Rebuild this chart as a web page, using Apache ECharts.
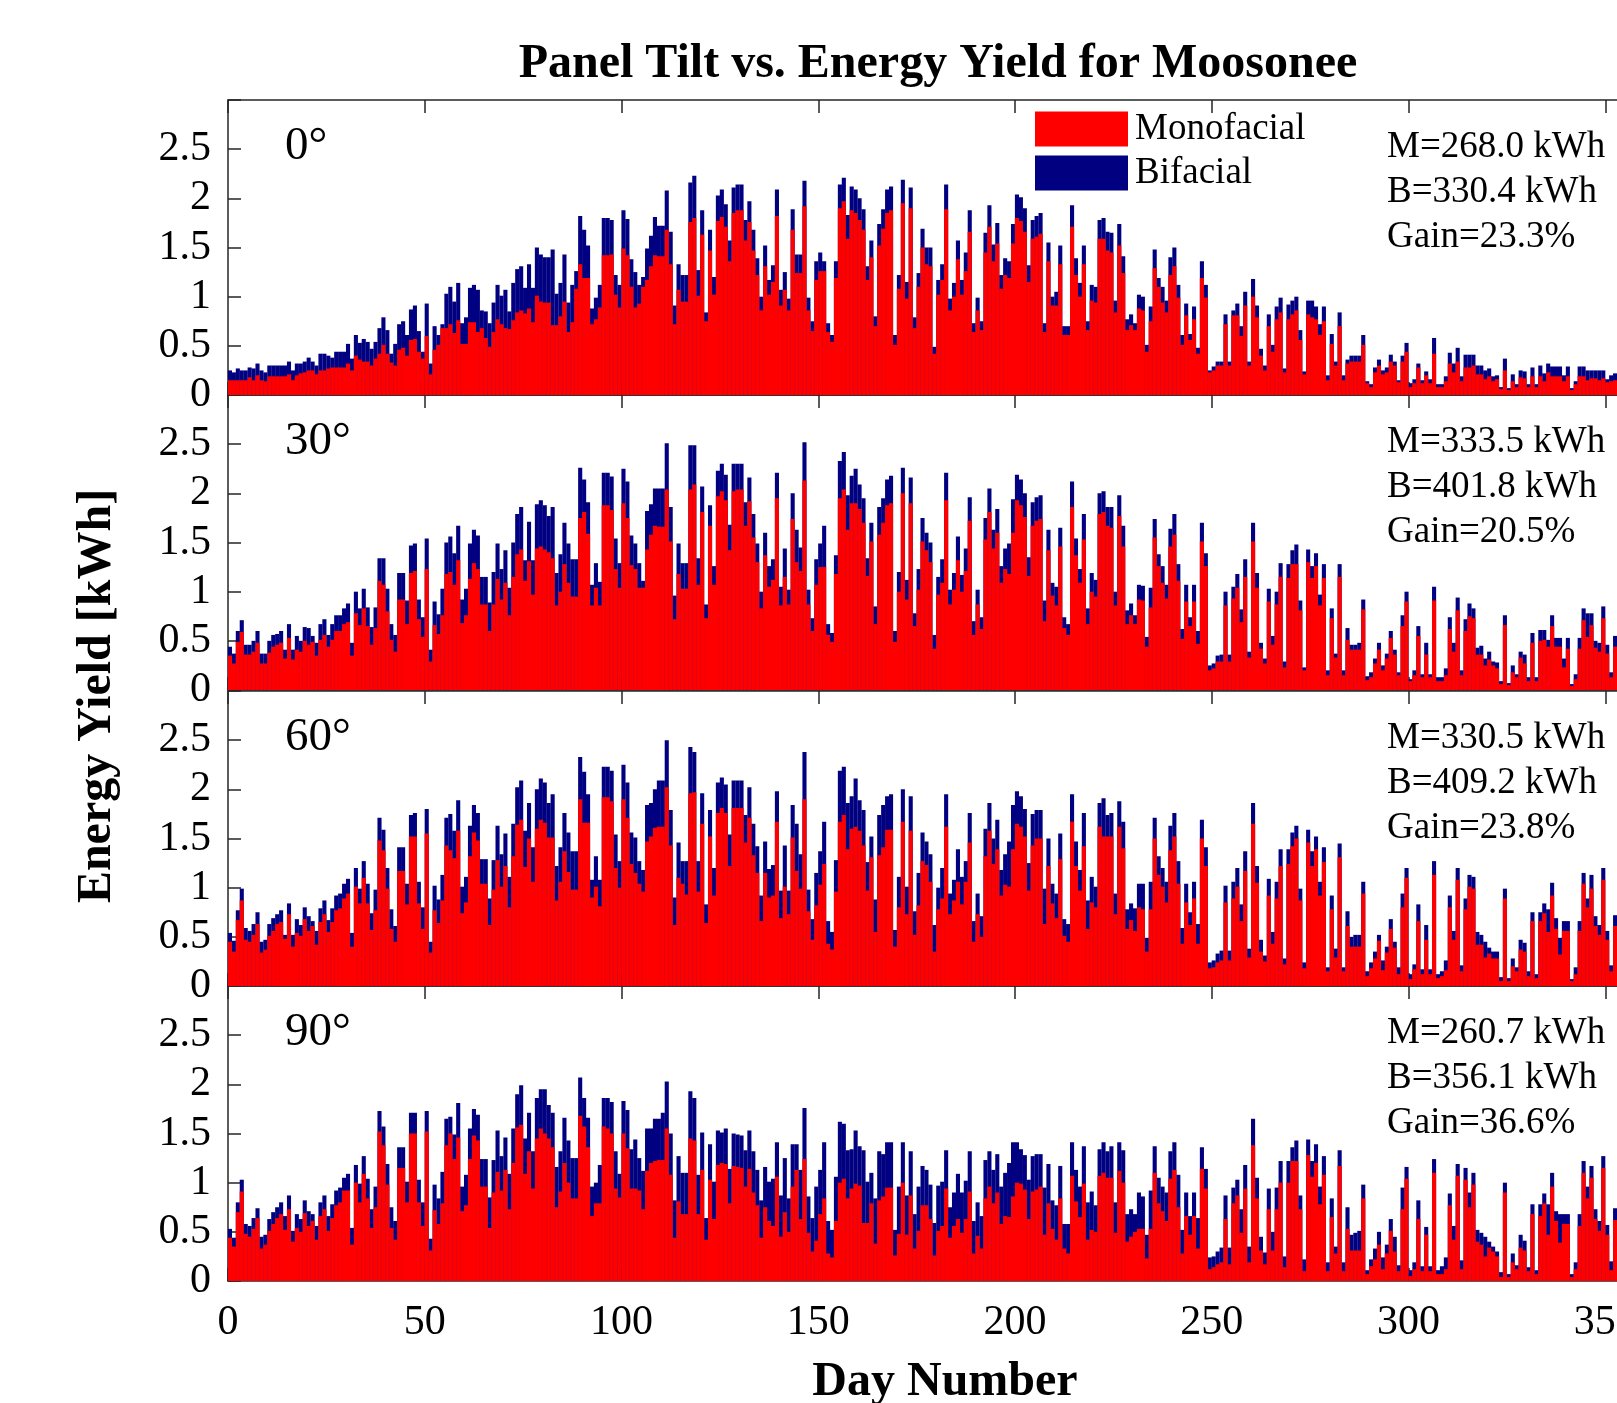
<!DOCTYPE html>
<html>
<head>
<meta charset="utf-8">
<title>Panel Tilt vs. Energy Yield for Moosonee</title>
<script src="https://cdn.jsdelivr.net/npm/echarts@6/dist/echarts.min.js"></script>
<style>
  html, body { margin: 0; padding: 0; background: #fff; }
  #chart { width: 1617px; height: 1403px; }
</style>
</head>
<body>
<div id="chart"></div>
<script>
// Daily energy yield [kWh], day 1..365 (days > 352 are off the picture)
const tiltLabels = ['0°', '30°', '60°', '90°'];
const totalMono = ['268.0', '333.5', '330.5', '260.7'];
const totalBi = ['330.4', '401.8', '409.2', '356.1'];
const gainPct = ['23.3', '20.5', '23.8', '36.6'];

const bi0 = [
  0.25,0.23,0.27,0.25,0.25,0.28,0.27,0.32,0.25,0.23,
  0.30,0.30,0.30,0.30,0.30,0.34,0.25,0.32,0.32,0.34,
  0.38,0.34,0.30,0.42,0.42,0.40,0.38,0.44,0.44,0.44,
  0.52,0.37,0.61,0.53,0.57,0.54,0.47,0.54,0.68,0.79,
  0.66,0.42,0.52,0.72,0.75,0.61,0.87,0.91,0.65,0.44,
  0.93,0.32,0.70,0.61,0.72,1.03,1.10,0.95,1.14,0.73,
  0.79,1.09,1.12,1.07,0.86,0.85,0.73,0.94,1.12,1.01,
  1.07,0.85,1.14,1.28,1.31,1.09,1.33,1.09,1.50,1.43,
  1.40,1.40,1.48,1.03,1.14,1.43,0.94,1.12,1.26,1.82,
  1.68,1.52,0.88,0.99,1.12,1.80,1.80,1.78,1.22,1.12,
  1.88,1.79,1.38,1.25,1.12,1.20,1.49,1.62,1.81,1.72,
  1.72,2.08,1.66,0.91,1.33,1.22,1.22,2.16,2.23,1.27,
  1.88,0.84,1.68,1.20,2.03,2.09,1.94,1.57,2.11,2.14,
  2.14,1.78,1.97,1.68,1.39,1.00,1.52,1.17,1.32,2.09,
  1.07,1.25,0.98,1.89,1.43,1.43,2.18,0.99,0.75,1.36,
  1.45,1.36,0.73,0.61,1.36,2.14,2.21,1.83,2.12,2.09,
  2.00,1.89,1.31,1.57,0.80,1.74,1.89,2.09,2.12,0.61,
  1.22,2.19,1.15,2.11,0.79,1.24,1.69,1.50,1.50,0.49,
  1.17,1.33,2.14,0.98,1.14,1.57,1.17,1.45,1.88,0.73,
  0.99,0.75,1.65,1.93,1.53,1.75,1.22,1.39,1.36,1.74,
  2.04,2.01,1.90,1.32,1.78,1.82,1.85,0.73,1.55,1.00,
  1.05,1.52,0.70,0.70,1.93,1.39,1.14,1.52,0.75,1.12,
  1.10,1.78,1.80,1.66,1.65,0.96,1.74,1.41,0.77,0.82,
  0.73,1.02,1.00,0.51,0.90,1.48,1.19,1.10,0.96,1.40,
  1.50,1.12,0.61,0.93,0.62,0.90,0.48,1.36,1.12,0.25,
  0.29,0.34,0.34,0.82,0.34,0.86,0.93,0.70,1.05,0.34,
  1.18,0.91,0.47,0.30,0.82,0.51,0.90,0.99,0.27,0.92,
  0.96,1.00,0.66,0.24,0.96,0.96,0.90,0.72,0.90,0.20,
  0.62,0.34,0.84,0.20,0.36,0.40,0.40,0.40,0.61,0.14,
  0.11,0.28,0.36,0.25,0.28,0.41,0.34,0.15,0.40,0.53,
  0.12,0.16,0.32,0.15,0.24,0.16,0.58,0.11,0.11,0.19,
  0.43,0.32,0.48,0.19,0.41,0.41,0.41,0.30,0.30,0.25,
  0.27,0.19,0.20,0.08,0.37,0.07,0.21,0.11,0.25,0.24,
  0.11,0.28,0.11,0.30,0.22,0.32,0.29,0.29,0.29,0.20,
  0.29,0.07,0.14,0.29,0.29,0.25,0.25,0.25,0.25,0.25,
  0.16,0.20,0.22,0.18,0.24,0.21,0.19,0.23,0.20,0.18,
  0.22,0.19,0.21,0.24,0.20
];
const mono0 = [
  0.15,0.15,0.15,0.15,0.15,0.18,0.15,0.20,0.15,0.14,
  0.19,0.19,0.19,0.19,0.19,0.21,0.15,0.20,0.22,0.23,
  0.25,0.25,0.21,0.25,0.25,0.27,0.28,0.28,0.28,0.28,
  0.32,0.25,0.40,0.36,0.34,0.34,0.30,0.37,0.42,0.51,
  0.42,0.33,0.30,0.46,0.48,0.40,0.56,0.57,0.44,0.37,
  0.60,0.21,0.46,0.51,0.68,0.68,0.72,0.63,0.76,0.52,
  0.52,0.74,0.74,0.64,0.68,0.58,0.49,0.64,0.77,0.72,
  0.68,0.67,0.76,0.84,0.86,0.83,0.88,0.74,1.01,0.95,
  0.94,0.94,0.71,0.71,0.80,0.95,0.64,0.74,1.08,1.33,
  1.19,1.19,0.72,0.77,0.89,1.42,1.42,1.43,1.02,0.89,
  1.49,1.42,1.10,0.89,0.93,1.10,1.17,1.31,1.42,1.41,
  1.41,1.68,1.33,0.72,1.07,0.95,0.95,1.76,1.80,1.01,
  1.63,0.75,1.47,1.02,1.77,1.81,1.71,1.36,1.85,1.88,
  1.88,1.57,1.76,1.47,1.22,0.86,1.31,1.02,1.15,1.82,
  0.91,1.07,0.86,1.68,1.24,1.24,1.92,0.86,0.65,1.17,
  1.26,1.26,0.64,0.54,1.19,1.90,1.97,1.59,1.88,1.85,
  1.78,1.68,1.17,1.40,0.70,1.52,1.69,1.85,1.88,0.51,
  1.08,1.95,0.98,1.90,0.68,1.10,1.50,1.33,1.31,0.42,
  1.02,1.17,1.89,0.86,1.00,1.38,1.02,1.26,1.66,0.64,
  0.86,0.66,1.45,1.71,1.36,1.54,1.08,1.22,1.19,1.54,
  1.80,1.77,1.66,1.15,1.59,1.61,1.64,0.64,1.36,0.91,
  0.91,1.33,0.61,0.61,1.71,1.22,1.00,1.33,0.66,0.96,
  0.94,1.59,1.59,1.47,1.45,0.84,1.52,1.24,0.66,0.71,
  0.66,0.88,0.86,0.44,0.75,1.29,1.10,0.94,0.84,1.22,
  1.31,0.99,0.51,0.81,0.56,0.77,0.42,1.19,0.99,0.23,
  0.25,0.30,0.30,0.72,0.30,0.81,0.81,0.60,0.91,0.30,
  1.00,0.79,0.40,0.25,0.70,0.44,0.77,0.84,0.23,0.77,
  0.82,0.86,0.56,0.21,0.82,0.79,0.77,0.61,0.75,0.15,
  0.52,0.30,0.70,0.15,0.32,0.34,0.34,0.34,0.51,0.12,
  0.08,0.23,0.30,0.21,0.23,0.34,0.30,0.13,0.34,0.44,
  0.08,0.12,0.28,0.12,0.20,0.12,0.42,0.08,0.08,0.14,
  0.32,0.23,0.34,0.14,0.28,0.28,0.30,0.21,0.21,0.16,
  0.19,0.14,0.16,0.06,0.25,0.05,0.14,0.08,0.18,0.17,
  0.08,0.19,0.08,0.19,0.14,0.23,0.19,0.19,0.19,0.14,
  0.19,0.05,0.11,0.19,0.19,0.15,0.17,0.17,0.15,0.17,
  0.13,0.14,0.15,0.12,0.17,0.14,0.13,0.16,0.14,0.12,
  0.15,0.13,0.14,0.17,0.14
];
const bi30 = [
  0.44,0.37,0.60,0.71,0.46,0.46,0.50,0.60,0.37,0.37,
  0.50,0.56,0.57,0.60,0.41,0.67,0.41,0.55,0.50,0.64,
  0.63,0.55,0.48,0.67,0.72,0.56,0.67,0.76,0.76,0.83,
  0.88,0.48,1.00,0.83,1.03,0.84,0.64,0.84,1.34,1.34,
  1.03,0.67,0.56,1.19,1.19,0.91,1.47,1.49,0.92,0.74,
  1.54,0.41,0.90,0.77,1.03,1.50,1.56,1.39,1.67,0.92,
  1.03,1.49,1.63,1.57,1.15,1.15,0.89,1.20,1.49,1.23,
  1.42,1.04,1.50,1.79,1.86,1.32,1.71,1.32,1.89,1.93,
  1.88,1.77,1.86,1.19,1.38,1.70,1.49,1.33,1.33,2.26,
  2.14,1.91,1.07,1.29,1.10,2.21,2.21,2.17,1.54,1.29,
  2.25,2.12,1.57,1.49,1.29,1.11,1.82,1.89,2.05,2.05,
  2.05,2.51,1.86,0.96,1.49,1.29,1.29,2.49,2.49,1.34,
  2.07,0.87,1.88,1.26,2.23,2.30,2.19,1.68,2.30,2.30,
  2.30,1.91,2.16,1.79,1.49,1.00,1.60,1.26,1.33,2.21,
  1.05,1.44,1.02,2.00,1.63,1.45,2.52,1.02,0.73,1.33,
  1.49,1.67,0.67,0.58,1.37,2.33,2.42,1.98,2.18,2.25,
  2.09,1.95,1.34,1.70,0.85,1.86,1.95,2.14,2.18,0.60,
  1.20,2.26,1.12,2.16,0.78,1.23,1.75,1.60,1.50,0.56,
  1.15,1.33,2.21,1.02,1.19,1.56,1.17,1.44,1.96,0.70,
  1.02,0.74,1.75,2.05,1.63,1.84,1.26,1.44,1.49,1.94,
  2.19,2.14,2.00,1.35,1.91,1.96,1.98,0.91,1.63,1.09,
  1.05,1.65,0.74,0.67,2.12,1.54,1.23,1.79,0.83,1.19,
  1.12,2.00,2.02,1.86,1.86,1.00,1.98,1.67,0.81,0.88,
  0.76,1.07,1.06,0.54,1.04,1.74,1.38,1.26,1.07,1.64,
  1.79,1.28,0.62,1.07,0.74,1.07,0.60,1.70,1.39,0.25,
  0.27,0.35,0.36,1.00,0.36,1.05,1.18,0.82,1.33,0.39,
  1.70,1.19,0.48,0.32,1.03,0.55,1.00,1.29,0.29,1.28,
  1.42,1.48,0.91,0.23,1.43,1.26,1.39,0.97,1.28,0.20,
  0.83,0.37,1.28,0.20,0.63,0.46,0.46,0.48,0.92,0.14,
  0.18,0.32,0.48,0.25,0.37,0.60,0.41,0.18,0.76,1.00,
  0.11,0.20,0.65,0.16,0.48,0.16,1.05,0.13,0.13,0.22,
  0.74,0.48,0.94,0.20,0.72,0.88,0.83,0.43,0.45,0.32,
  0.39,0.29,0.28,0.09,0.76,0.07,0.25,0.16,0.39,0.36,
  0.13,0.58,0.13,0.61,0.61,0.51,0.76,0.53,0.53,0.32,
  0.53,0.06,0.16,0.53,0.83,0.78,0.78,0.50,0.48,0.85,
  0.46,0.18,0.55,0.40,0.62,0.31,0.48,0.70,0.36,0.52,
  0.44,0.60,0.38,0.50,0.45
];
const mono30 = [
  0.35,0.27,0.49,0.59,0.36,0.36,0.39,0.48,0.27,0.27,
  0.38,0.44,0.46,0.48,0.32,0.53,0.31,0.41,0.39,0.50,
  0.46,0.49,0.35,0.51,0.56,0.44,0.51,0.60,0.60,0.67,
  0.69,0.35,0.78,0.66,0.83,0.65,0.46,0.63,1.11,1.07,
  0.80,0.51,0.39,0.92,0.92,0.67,1.19,1.21,0.72,0.54,
  1.23,0.29,0.66,0.57,0.76,1.18,1.20,1.07,1.32,0.68,
  0.76,1.13,1.29,1.23,0.87,0.87,0.60,0.87,1.13,0.92,
  1.09,0.76,1.15,1.38,1.43,1.11,1.31,0.97,1.44,1.46,
  1.43,1.40,1.34,0.86,1.00,1.28,1.09,0.95,0.95,1.75,
  1.81,1.59,0.86,1.04,0.86,1.88,1.88,1.83,1.23,1.04,
  1.90,1.75,1.27,1.23,1.04,1.04,1.43,1.58,1.67,1.66,
  1.66,2.04,1.51,0.72,1.18,1.03,1.03,2.04,2.09,1.07,
  1.81,0.73,1.67,1.07,1.97,2.02,1.93,1.42,2.02,2.04,
  2.04,1.67,1.92,1.55,1.30,0.83,1.37,1.05,1.12,1.95,
  0.86,1.15,0.87,1.74,1.30,1.21,2.13,0.87,0.60,1.07,
  1.25,1.25,0.56,0.49,1.18,1.95,2.04,1.63,1.90,1.90,
  1.84,1.70,1.16,1.51,0.67,1.58,1.70,1.88,1.90,0.49,
  1.00,2.00,0.92,1.90,0.65,1.02,1.51,1.42,1.30,0.42,
  0.97,1.09,1.93,0.87,1.02,1.32,1.00,1.21,1.72,0.56,
  0.87,0.62,1.53,1.81,1.44,1.60,1.09,1.23,1.18,1.60,
  1.93,1.88,1.76,1.16,1.67,1.72,1.74,0.70,1.42,0.96,
  0.86,1.46,0.63,0.56,1.86,1.37,1.09,1.53,0.67,1.00,
  0.95,1.79,1.81,1.67,1.65,0.86,1.77,1.46,0.67,0.76,
  0.67,0.92,0.91,0.44,0.84,1.55,1.26,1.09,0.93,1.46,
  1.58,1.11,0.52,0.90,0.65,0.90,0.47,1.51,1.26,0.20,
  0.22,0.29,0.29,0.86,0.29,0.93,1.04,0.69,1.15,0.33,
  1.51,1.04,0.42,0.27,0.90,0.46,0.87,1.15,0.23,1.14,
  1.28,1.28,0.81,0.20,1.30,1.14,1.26,0.86,1.14,0.15,
  0.73,0.33,1.15,0.15,0.51,0.41,0.41,0.41,0.82,0.10,
  0.13,0.27,0.41,0.20,0.32,0.53,0.36,0.15,0.65,0.90,
  0.09,0.15,0.55,0.13,0.36,0.13,0.91,0.09,0.09,0.15,
  0.62,0.39,0.81,0.15,0.60,0.75,0.73,0.36,0.36,0.25,
  0.31,0.25,0.22,0.06,0.66,0.05,0.18,0.13,0.33,0.27,
  0.09,0.48,0.09,0.50,0.51,0.44,0.65,0.44,0.44,0.23,
  0.42,0.04,0.11,0.42,0.71,0.54,0.66,0.43,0.39,0.73,
  0.37,0.13,0.44,0.32,0.51,0.25,0.39,0.58,0.29,0.42,
  0.35,0.49,0.30,0.41,0.36
];
const bi60 = [
  0.54,0.46,0.77,0.99,0.59,0.56,0.63,0.75,0.45,0.47,
  0.63,0.69,0.73,0.77,0.52,0.84,0.52,0.68,0.62,0.80,
  0.71,0.66,0.56,0.79,0.87,0.67,0.79,0.92,0.94,1.04,
  1.09,0.54,1.20,0.99,1.27,1.04,0.74,0.98,1.71,1.59,
  1.20,0.78,0.61,1.41,1.41,1.04,1.74,1.76,1.06,0.80,
  1.80,0.45,1.02,0.88,1.13,1.71,1.75,1.58,1.89,1.01,
  1.11,1.63,1.84,1.76,1.29,1.29,0.89,1.28,1.63,1.34,
  1.55,1.11,1.65,2.02,2.09,1.58,1.86,1.41,2.00,2.11,
  2.07,1.86,1.95,1.22,1.41,1.76,1.56,1.37,1.37,2.33,
  2.18,1.95,1.08,1.32,1.08,2.23,2.23,2.19,1.54,1.27,
  2.25,2.07,1.56,1.51,1.27,1.18,1.84,1.86,2.00,2.09,
  2.09,2.50,1.79,0.90,1.46,1.27,1.27,2.43,2.38,1.27,
  1.96,0.83,1.79,1.20,2.07,2.12,2.05,1.54,2.09,2.09,
  2.09,1.74,2.02,1.65,1.42,0.92,1.47,1.19,1.23,1.98,
  0.97,1.43,0.97,1.84,1.65,1.34,2.38,0.98,0.68,1.15,
  1.37,1.67,0.66,0.55,1.28,2.19,2.23,1.86,1.93,2.11,
  1.89,1.79,1.26,1.52,0.88,1.74,1.84,1.93,1.95,0.57,
  1.11,2.00,1.01,1.93,0.76,1.15,1.56,1.47,1.34,0.62,
  1.00,1.20,1.95,0.94,1.08,1.39,1.11,1.27,1.76,0.66,
  0.94,0.71,1.60,1.86,1.50,1.69,1.18,1.34,1.47,1.84,
  1.98,1.93,1.80,1.25,1.75,1.79,1.79,0.99,1.50,1.04,
  0.94,1.55,0.68,0.63,1.95,1.47,1.18,1.76,0.87,1.11,
  1.01,1.86,1.91,1.74,1.76,0.94,1.88,1.67,0.78,0.84,
  0.79,1.04,1.04,0.49,1.06,1.71,1.32,1.20,1.06,1.63,
  1.76,1.27,0.59,1.04,0.75,1.06,0.63,1.69,1.41,0.24,
  0.26,0.33,0.36,1.02,0.36,1.06,1.20,0.83,1.37,0.38,
  1.86,1.22,0.47,0.31,1.09,0.55,1.06,1.39,0.28,1.39,
  1.56,1.63,0.99,0.24,1.59,1.37,1.52,1.06,1.41,0.19,
  0.92,0.38,1.45,0.19,0.76,0.50,0.52,0.52,1.06,0.15,
  0.24,0.35,0.52,0.26,0.40,0.68,0.45,0.19,0.94,1.20,
  0.12,0.22,0.83,0.17,0.62,0.17,1.27,0.12,0.15,0.26,
  0.92,0.56,1.20,0.21,0.89,1.13,1.11,0.55,0.52,0.45,
  0.39,0.35,0.35,0.09,0.99,0.08,0.28,0.19,0.47,0.44,
  0.15,0.75,0.12,0.75,0.84,0.78,1.05,0.69,0.49,0.66,
  0.66,0.07,0.19,0.66,1.15,0.89,1.13,0.71,0.62,1.20,
  0.56,0.21,0.72,0.55,0.80,0.42,0.64,0.92,0.47,0.68,
  0.58,0.77,0.50,0.66,0.60
];
const mono60 = [
  0.45,0.35,0.67,0.87,0.47,0.45,0.52,0.63,0.34,0.37,
  0.51,0.56,0.63,0.65,0.48,0.73,0.40,0.54,0.51,0.68,
  0.56,0.61,0.42,0.65,0.73,0.55,0.65,0.77,0.79,0.89,
  0.94,0.40,1.01,0.84,1.10,0.84,0.57,0.77,1.48,1.38,
  0.99,0.58,0.45,1.17,1.17,0.83,1.52,1.52,0.84,0.58,
  1.55,0.34,0.77,0.64,0.87,1.43,1.38,1.30,1.58,0.74,
  0.85,1.32,1.56,1.48,1.04,1.04,0.62,0.98,1.28,1.01,
  1.22,0.80,1.32,1.64,1.69,1.21,1.50,1.06,1.60,1.69,
  1.66,1.51,1.51,0.87,1.06,1.37,1.16,0.98,0.98,1.90,
  1.66,1.66,0.90,1.01,0.81,1.92,1.92,1.88,1.20,1.00,
  1.90,1.71,1.24,1.15,1.04,0.96,1.47,1.52,1.61,1.62,
  1.62,2.02,1.43,0.62,1.10,1.04,0.93,1.96,1.97,0.96,
  1.65,0.64,1.52,0.92,1.76,1.81,1.76,1.22,1.81,1.81,
  1.81,1.46,1.71,1.33,1.15,0.66,1.15,0.90,0.92,1.67,
  0.69,1.01,0.73,1.51,1.17,0.99,1.90,0.76,0.47,0.82,
  1.03,1.24,0.43,0.37,0.96,1.67,1.74,1.39,1.60,1.62,
  1.58,1.43,0.97,1.31,0.55,1.33,1.41,1.59,1.59,0.40,
  0.80,1.67,0.73,1.58,0.52,0.82,1.27,1.23,1.06,0.35,
  0.78,0.89,1.62,0.73,0.87,1.06,0.83,1.06,1.46,0.45,
  0.73,0.50,1.32,1.58,1.24,1.39,0.92,1.03,1.01,1.39,
  1.65,1.62,1.52,0.97,1.43,1.50,1.50,0.63,1.22,0.84,
  0.69,1.29,0.51,0.45,1.67,1.22,0.97,1.42,0.58,0.85,
  0.80,1.62,1.52,1.52,1.52,0.73,1.62,1.40,0.58,0.67,
  0.56,0.80,0.78,0.35,0.78,1.50,1.13,1.01,0.85,1.38,
  1.52,1.04,0.43,0.85,0.62,0.89,0.43,1.50,1.22,0.18,
  0.19,0.24,0.26,0.85,0.26,0.89,1.01,0.66,1.17,0.29,
  1.65,1.05,0.35,0.25,0.92,0.43,0.89,1.22,0.22,1.24,
  1.42,1.50,0.87,0.18,1.46,1.22,1.39,0.92,1.26,0.15,
  0.78,0.29,1.31,0.15,0.61,0.40,0.40,0.40,0.94,0.10,
  0.18,0.28,0.46,0.16,0.34,0.58,0.39,0.12,0.80,1.10,
  0.07,0.17,0.66,0.12,0.47,0.12,1.13,0.08,0.10,0.16,
  0.80,0.47,1.08,0.15,0.78,1.01,0.99,0.42,0.42,0.29,
  0.33,0.28,0.28,0.05,0.89,0.05,0.20,0.15,0.37,0.35,
  0.10,0.66,0.08,0.66,0.74,0.55,0.92,0.58,0.32,0.56,
  0.56,0.05,0.12,0.56,1.04,0.80,0.99,0.61,0.52,1.08,
  0.47,0.15,0.61,0.46,0.68,0.34,0.54,0.79,0.38,0.57,
  0.48,0.66,0.41,0.55,0.50
];
const bi90 = [
  0.53,0.44,0.80,1.03,0.58,0.56,0.64,0.74,0.45,0.47,
  0.63,0.70,0.75,0.80,0.66,0.87,0.51,0.68,0.63,0.82,
  0.71,0.68,0.56,0.80,0.87,0.66,0.78,0.92,0.95,1.05,
  1.09,0.54,1.18,0.99,1.27,1.04,0.73,0.96,1.73,1.57,
  1.19,0.75,0.61,1.36,1.36,1.01,1.71,1.71,1.03,0.80,
  1.73,0.43,0.98,0.84,1.11,1.65,1.67,1.49,1.81,0.96,
  1.08,1.55,1.75,1.69,1.24,1.24,0.85,1.23,1.53,1.27,
  1.46,1.09,1.55,1.90,1.99,1.45,1.71,1.32,1.86,1.95,
  1.95,1.79,1.71,1.16,1.32,1.66,1.43,1.25,1.25,2.07,
  1.86,1.66,0.96,1.00,1.18,1.86,1.86,1.82,1.32,1.09,
  1.83,1.74,1.34,1.44,1.25,1.12,1.55,1.55,1.65,1.65,
  1.71,2.03,1.50,0.82,1.27,1.10,1.10,1.93,1.86,1.08,
  1.51,0.64,1.39,1.01,1.53,1.51,1.55,1.14,1.50,1.49,
  1.48,1.33,1.53,1.32,1.13,0.82,1.16,1.01,1.04,1.41,
  0.87,1.25,0.84,1.39,1.39,1.13,1.76,0.86,0.64,0.96,
  1.13,1.41,0.61,0.52,1.06,1.62,1.60,1.33,1.34,1.53,
  1.37,1.33,1.01,1.10,0.84,1.32,1.29,1.41,1.41,0.52,
  0.96,1.41,0.87,1.32,0.68,0.96,1.17,1.13,0.98,0.59,
  0.97,1.01,1.33,0.75,0.90,1.09,0.90,1.02,1.32,0.61,
  0.80,0.66,1.23,1.32,1.13,1.29,0.96,1.10,1.20,1.41,
  1.41,1.34,1.28,1.03,1.27,1.29,1.29,0.95,1.19,0.82,
  0.77,1.17,0.58,0.58,1.41,1.13,0.96,1.37,0.80,0.91,
  0.77,1.34,1.41,1.32,1.37,0.80,1.41,1.33,0.68,0.73,
  0.68,0.90,0.86,0.47,0.92,1.37,1.05,0.96,0.90,1.32,
  1.41,1.08,0.52,0.90,0.66,0.90,0.64,1.36,1.14,0.24,
  0.25,0.30,0.34,0.87,0.34,0.95,1.03,0.73,1.18,0.35,
  1.65,1.05,0.45,0.29,0.94,0.50,0.95,1.22,0.25,1.22,
  1.36,1.43,0.87,0.22,1.44,1.22,1.39,0.96,1.27,0.19,
  0.84,0.35,1.33,0.19,0.75,0.47,0.49,0.51,0.98,0.11,
  0.22,0.33,0.50,0.24,0.37,0.63,0.45,0.16,0.95,1.16,
  0.11,0.19,0.82,0.15,0.55,0.15,1.24,0.11,0.15,0.24,
  0.89,0.56,1.19,0.21,1.15,0.90,1.10,0.52,0.49,0.45,
  0.40,0.35,0.30,0.09,1.00,0.07,0.28,0.16,0.47,0.41,
  0.14,0.78,0.11,0.78,0.89,0.78,1.10,0.71,0.68,0.68,
  0.68,0.07,0.19,0.68,1.22,0.96,1.17,0.73,0.61,1.27,
  0.57,0.20,0.74,0.56,0.83,0.44,0.66,0.95,0.49,0.70,
  0.60,0.79,0.52,0.68,0.62
];
const mono90 = [
  0.44,0.35,0.70,0.91,0.48,0.45,0.53,0.64,0.33,0.37,
  0.51,0.58,0.64,0.68,0.52,0.73,0.40,0.54,0.50,0.69,
  0.56,0.61,0.42,0.66,0.73,0.51,0.64,0.77,0.80,0.92,
  0.92,0.37,1.00,0.80,1.09,0.84,0.54,0.75,1.52,1.38,
  0.98,0.54,0.42,1.15,1.15,0.80,1.50,1.50,0.80,0.56,
  1.52,0.31,0.72,0.58,0.79,1.38,1.50,1.24,1.46,0.71,
  0.77,1.24,1.48,1.43,0.96,0.96,0.54,0.90,1.11,0.92,
  1.13,0.73,1.20,1.56,1.59,1.09,1.32,0.94,1.45,1.55,
  1.50,1.45,1.36,0.75,0.91,1.20,1.00,0.84,0.84,1.68,
  1.57,1.36,0.66,0.79,0.79,1.57,1.55,1.50,0.94,0.85,
  1.50,1.35,0.94,0.94,0.92,0.73,1.12,1.20,1.22,1.23,
  1.23,1.55,1.08,0.44,0.81,0.68,0.68,1.45,1.43,0.68,
  1.13,0.42,1.03,0.63,1.18,1.20,1.19,0.79,1.17,1.16,
  1.15,0.96,1.14,0.90,0.77,0.44,0.75,0.61,0.56,1.06,
  0.45,0.70,0.50,0.96,1.13,0.63,1.24,0.49,0.30,0.41,
  0.68,0.84,0.28,0.24,0.61,1.00,1.04,0.84,0.94,0.99,
  0.97,0.59,0.59,0.79,0.38,0.82,0.86,0.95,0.95,0.26,
  0.48,1.00,0.47,0.87,0.33,0.51,0.77,0.77,0.63,0.26,
  0.51,0.56,0.94,0.44,0.56,0.63,0.49,0.63,0.91,0.28,
  0.46,0.33,0.84,0.96,0.79,0.90,0.58,0.66,0.65,0.86,
  1.00,0.99,0.93,0.63,0.91,0.93,0.96,0.47,0.79,0.53,
  0.42,0.84,0.33,0.28,1.07,0.81,0.65,0.99,0.42,0.52,
  0.50,1.07,1.10,1.05,1.05,0.49,1.12,1.00,0.40,0.45,
  0.50,0.53,0.53,0.23,0.53,1.10,0.79,0.71,0.61,1.04,
  1.13,0.75,0.28,0.66,0.47,0.66,0.33,1.14,0.94,0.12,
  0.14,0.17,0.19,0.63,0.17,0.79,0.87,0.49,0.94,0.19,
  1.38,0.84,0.31,0.17,0.73,0.31,0.73,1.00,0.14,1.00,
  1.22,1.22,0.73,0.10,1.28,1.06,1.20,0.78,1.08,0.10,
  0.65,0.28,1.17,0.10,0.53,0.31,0.31,0.31,0.84,0.07,
  0.15,0.22,0.37,0.12,0.28,0.51,0.30,0.10,0.73,1.04,
  0.05,0.12,0.63,0.10,0.47,0.10,1.10,0.07,0.07,0.12,
  0.77,0.42,1.07,0.12,1.03,0.75,0.98,0.40,0.37,0.25,
  0.34,0.30,0.25,0.04,0.90,0.04,0.19,0.12,0.34,0.31,
  0.10,0.68,0.07,0.66,0.79,0.47,0.96,0.61,0.39,0.58,
  0.58,0.04,0.12,0.56,1.10,0.84,1.05,0.63,0.51,1.15,
  0.47,0.11,0.62,0.45,0.70,0.36,0.55,0.82,0.39,0.58,
  0.49,0.67,0.41,0.56,0.50
];

(function () {
  const panels = [
    { mono: mono0, bi: bi0 },
    { mono: mono30, bi: bi30 },
    { mono: mono60, bi: bi60 },
    { mono: mono90, bi: bi90 }
  ];

  // geometry of the four stacked axes (the x range runs past the right edge of the page)
  const PANEL_TOPS = [100, 395, 691, 986];
  const PANEL_H = 295;
  const PLOT_LEFT = 228;
  const DAY_PX = 3.935;
  const N_DAYS = 365;

  const FONT = '"Liberation Serif", "Times New Roman", serif';
  const AXIS_COLOR = '#262626';
  const RED = '#ff0000';
  const NAVY = '#000080';

  const axisLine = { show: true, lineStyle: { color: AXIS_COLOR, width: 1.5 } };
  const axisTick = { show: true, inside: true, length: 13, lineStyle: { color: AXIS_COLOR, width: 1.5 } };

  // day i is drawn over [i-1, i]
  const toPoints = (arr) => arr.map((v, i) => [i + 0.5, v]);

  const grid = [];
  const xAxis = [];
  const yAxis = [];
  const series = [];
  const graphic = [];

  PANEL_TOPS.forEach((top, k) => {
    grid.push({
      left: PLOT_LEFT, top: top, width: DAY_PX * N_DAYS, height: PANEL_H,
      containLabel: false, outerBoundsMode: 'none'
    });

    // bottom axis (labels only on the last panel)
    xAxis.push({
      gridIndex: k, type: 'value', position: 'bottom',
      min: 0, max: N_DAYS, interval: 50,
      axisLine: axisLine, axisTick: axisTick,
      axisLabel: {
        show: k === PANEL_TOPS.length - 1, margin: 21,
        fontFamily: FONT, fontSize: 42, color: '#000',
        showMaxLabel: false
      },
      splitLine: { show: false }
    });
    // top axis, just to close the box
    xAxis.push({
      gridIndex: k, type: 'value', position: 'top',
      min: 0, max: N_DAYS, interval: 50,
      axisLine: axisLine, axisTick: axisTick,
      axisLabel: { show: false },
      splitLine: { show: false }
    });
    yAxis.push({
      gridIndex: k, type: 'value',
      min: 0, max: 3, interval: 0.5,
      axisLine: axisLine, axisTick: axisTick,
      axisLabel: {
        margin: 17, fontFamily: FONT, fontSize: 42, color: '#000',
        formatter: (v) => (v >= 3 ? '' : String(v))
      },
      splitLine: { show: false }
    });

    series.push({
      name: 'Bifacial', type: 'bar',
      xAxisIndex: 2 * k, yAxisIndex: k,
      barWidth: 4.1, barGap: '-100%',
      itemStyle: { color: NAVY },
      data: toPoints(panels[k].bi)
    });
    series.push({
      name: 'Monofacial', type: 'bar',
      xAxisIndex: 2 * k, yAxisIndex: k,
      barWidth: 4.1, barGap: '-100%',
      itemStyle: { color: RED },
      data: toPoints(panels[k].mono)
    });

    // tilt label, top left of each panel
    graphic.push({
      type: 'text', left: 285, top: top + 23, z: 100,
      style: { text: tiltLabels[k], fontFamily: FONT, fontSize: 47, fill: '#000' }
    });
    // totals, top right of each panel
    graphic.push({
      type: 'text', left: 1387, top: top + 25, z: 100,
      style: {
        text: 'M=' + totalMono[k] + ' kWh\nB=' + totalBi[k] + ' kWh\nGain=' + gainPct[k] + '%',
        fontFamily: FONT, fontSize: 37, lineHeight: 45, fill: '#000'
      }
    });
  });

  graphic.push({
    type: 'text', x: 938, y: 65, z: 100,
    style: {
      text: 'Panel Tilt vs. Energy Yield for Moosonee',
      fontFamily: FONT, fontWeight: 'bold', fontSize: 48, fill: '#000',
      align: 'center', verticalAlign: 'middle'
    }
  });
  graphic.push({
    type: 'text', x: 945, y: 1383, z: 100,
    style: {
      text: 'Day Number',
      fontFamily: FONT, fontWeight: 'bold', fontSize: 48, fill: '#000',
      align: 'center', verticalAlign: 'middle'
    }
  });
  graphic.push({
    type: 'text', x: 98, y: 696, rotation: Math.PI / 2, z: 100,
    style: {
      text: 'Energy Yield [kWh]',
      fontFamily: FONT, fontWeight: 'bold', fontSize: 48, fill: '#000',
      align: 'center', verticalAlign: 'middle'
    }
  });

  const chart = echarts.init(document.getElementById('chart'), null, { renderer: 'canvas' });
  chart.setOption({
    animation: false,
    backgroundColor: '#fff',
    legend: {
      data: ['Monofacial', 'Bifacial'],
      orient: 'vertical',
      left: 1035, top: 107,
      padding: 0, itemGap: 0,
      itemWidth: 93, itemHeight: 35,
      icon: 'rect',
      textStyle: { fontFamily: FONT, fontSize: 37, color: '#000', lineHeight: 34, padding: [10, 0, 0, 2] }
    },
    grid: grid,
    xAxis: xAxis,
    yAxis: yAxis,
    series: series,
    graphic: graphic
  });
}());
</script>
</body>
</html>
